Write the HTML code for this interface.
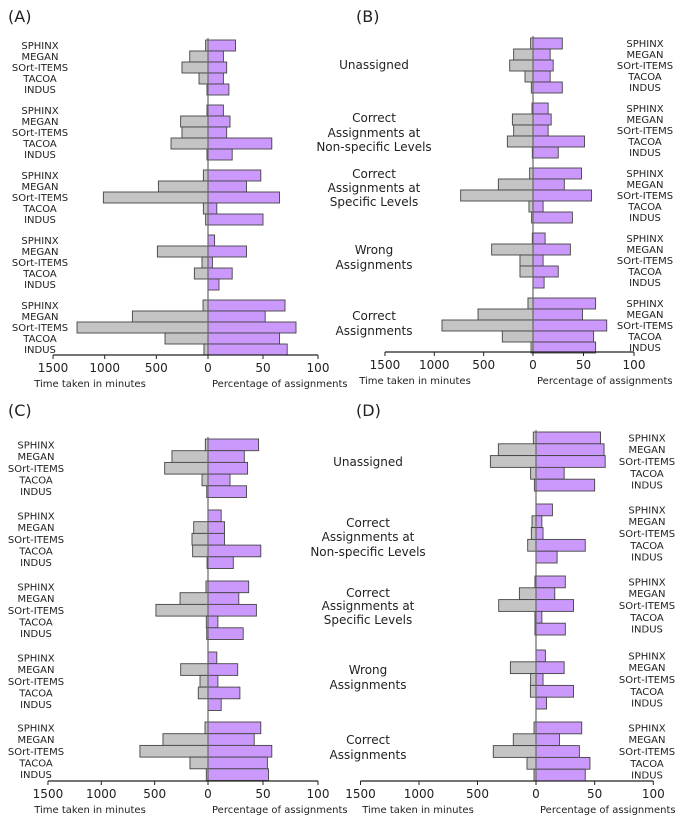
<!DOCTYPE html>
<html><head><meta charset="utf-8"><style>
html,body{margin:0;padding:0;background:#fff}
svg{display:block;font-family:"DejaVu Sans","Liberation Sans",sans-serif}
</style></head><body>
<svg id="fig" width="685" height="829" viewBox="0 0 685 829"></svg>
<script>
const tools = ["SPHINX","MEGAN","SOrt-ITEMS","TACOA","INDUS"];
const categories = ["Unassigned","Correct Assignments at Non-specific Levels","Correct Assignments at Specific Levels","Wrong Assignments","Correct Assignments"];
const timeTicks = [1500,1000,500,0];
const pctTicks = [50,100];
// time (minutes) per category, per tool
const timeA = [[23,177,252,87,10],[10,265,252,358,10],[45,480,1013,45,23],[0,490,58,132,0],[48,732,1268,416,39]];
const pctA  = [[25,14,17,14,19],[14,20,17,58,22],[48,35,65,8,50],[6,35,4,22,10],[70,52,80,65,72]];
const timeB = [[24,196,236,81,17],[10,209,196,260,7],[34,351,733,41,14],[7,419,132,132,0],[51,557,922,311,20]];
const pctB  = [[29,17,20,17,29],[15,18,15,51,25],[48,31,58,10,39],[12,37,10,25,11],[62,49,73,60,62]];
const timeC = [[25,338,406,56,12],[0,134,150,144,9],[19,262,488,16,12],[0,256,75,91,0],[28,422,638,169,16]];
const pctC  = [[46,33,36,20,35],[12,15,15,48,23],[37,28,44,9,32],[8,27,9,29,12],[48,42,58,54,55]];
const timeD = [[23,322,390,46,14],[0,34,40,71,0],[9,142,319,9,9],[0,219,46,48,0],[17,194,365,77,17]];
const pctD  = [[55,58,59,24,50],[14,5,6,42,18],[25,16,32,5,25],[8,24,6,32,9],[39,20,37,46,42]];

const NS="http://www.w3.org/2000/svg";
const svg=document.getElementById('fig');
function mk(tag,attrs,parent){const e=document.createElementNS(NS,tag);for(const k in attrs)e.setAttribute(k,attrs[k]);(parent||svg).appendChild(e);return e;}
function txt(s,x,y,size,anchor,parent){const t=mk('text',{x:x,y:y,'font-size':size,'text-anchor':anchor||'middle',fill:'#222'},parent);t.textContent=s;return t;}

const panels=[
 {id:'a',letter:'(A)',lx:8,ly:22,zero:208,pm:0.1033,pp:1.10,tops:[40,105,170,235,300],bh:11,axisY:355,toolX:40,time:timeA,pct:pctA},
 {id:'b',letter:'(B)',lx:356,ly:22,zero:533,pm:0.0987,pp:1.01,tops:[38,103,168,233,298],bh:11,axisY:352,toolX:645,time:timeB,pct:pctB},
 {id:'c',letter:'(C)',lx:8,ly:416,zero:208,pm:0.1067,pp:1.10,tops:[439,510,581,652,722],bh:11.7,axisY:781,toolX:36,time:timeC,pct:pctC},
 {id:'d',letter:'(D)',lx:356,ly:416,zero:536,pm:0.117,pp:1.173,tops:[432,504,576,650,722],bh:11.8,axisY:781,toolX:647,time:timeD,pct:pctD}
];

panels.forEach(p=>{
  const g=mk('g',{});
  
  
  const xT=v=>p.zero-v*p.pm, xP=v=>p.zero+v*p.pp;
  const L=txt(p.letter,p.lx,p.ly,16,'start',g);
  
  
  for(let c=0;c<5;c++){
    for(let t=0;t<5;t++){
      const y=p.tops[c]+t*p.bh;
      const tv=p.time[c][t], pv=p.pct[c][t];
      const r1=mk('rect',{x:xT(tv),y:y,width:Math.max(0,xT(0)-xT(tv)),height:p.bh,fill:'#c4c4c4',stroke:'#444','stroke-width':0.9},g);
      
      
      const r2=mk('rect',{x:xP(0),y:y,width:Math.max(0,xP(pv)-xP(0)),height:p.bh,fill:'#cb98fc',stroke:'#444','stroke-width':0.9},g);
      
      
      const lab=txt(tools[t],p.toolX,y+p.bh/2+3.5,10,'middle',g);
      
      
    }
  }
  const z=mk('line',{x1:p.zero,y1:p.tops[0]-2,x2:p.zero,y2:p.axisY,stroke:'#666','stroke-width':1.2},g);
  
  
  const ax=mk('line',{x1:xT(1500),y1:p.axisY,x2:xP(100),y2:p.axisY,stroke:'#222','stroke-width':1.2},g);
  
  
  timeTicks.forEach(v=>{
    mk('line',{x1:xT(v),y1:p.axisY,x2:xT(v),y2:p.axisY+4,stroke:'#222'},g);
    const t=txt(String(v),xT(v),p.axisY+17,12,'middle',g);
    
    
  });
  pctTicks.forEach(v=>{
    mk('line',{x1:xP(v),y1:p.axisY,x2:xP(v),y2:p.axisY+4,stroke:'#222'},g);
    const t=txt(String(v),xP(v),p.axisY+17,12,'middle',g);
    
    
  });
  const t1=txt('Time taken in minutes',p.zero-118,p.axisY+32,10,'middle',g);
  
  
  const t2=txt('Percentage of assignments',p.zero+4,p.axisY+32,10,'start',g);
  
  
});

const catTop=[[65],[118,133,147],[174,188,202],[250,265],[316,331]];
const catBot=[[462],[523,537,552],[593,606,620],[670,685],[740,755]];
const catLines=[["Unassigned"],["Correct","Assignments at","Non-specific Levels"],["Correct","Assignments at","Specific Levels"],["Wrong","Assignments"],["Correct","Assignments"]];
[[catTop,374],[catBot,368]].forEach(([ys,cx])=>{
  ys.forEach((arr,i)=>arr.forEach((y,j)=>{
    const t=txt(catLines[i][j],cx,y+4,12,'middle');
    
    
  }));
});
</script>
</body></html>
